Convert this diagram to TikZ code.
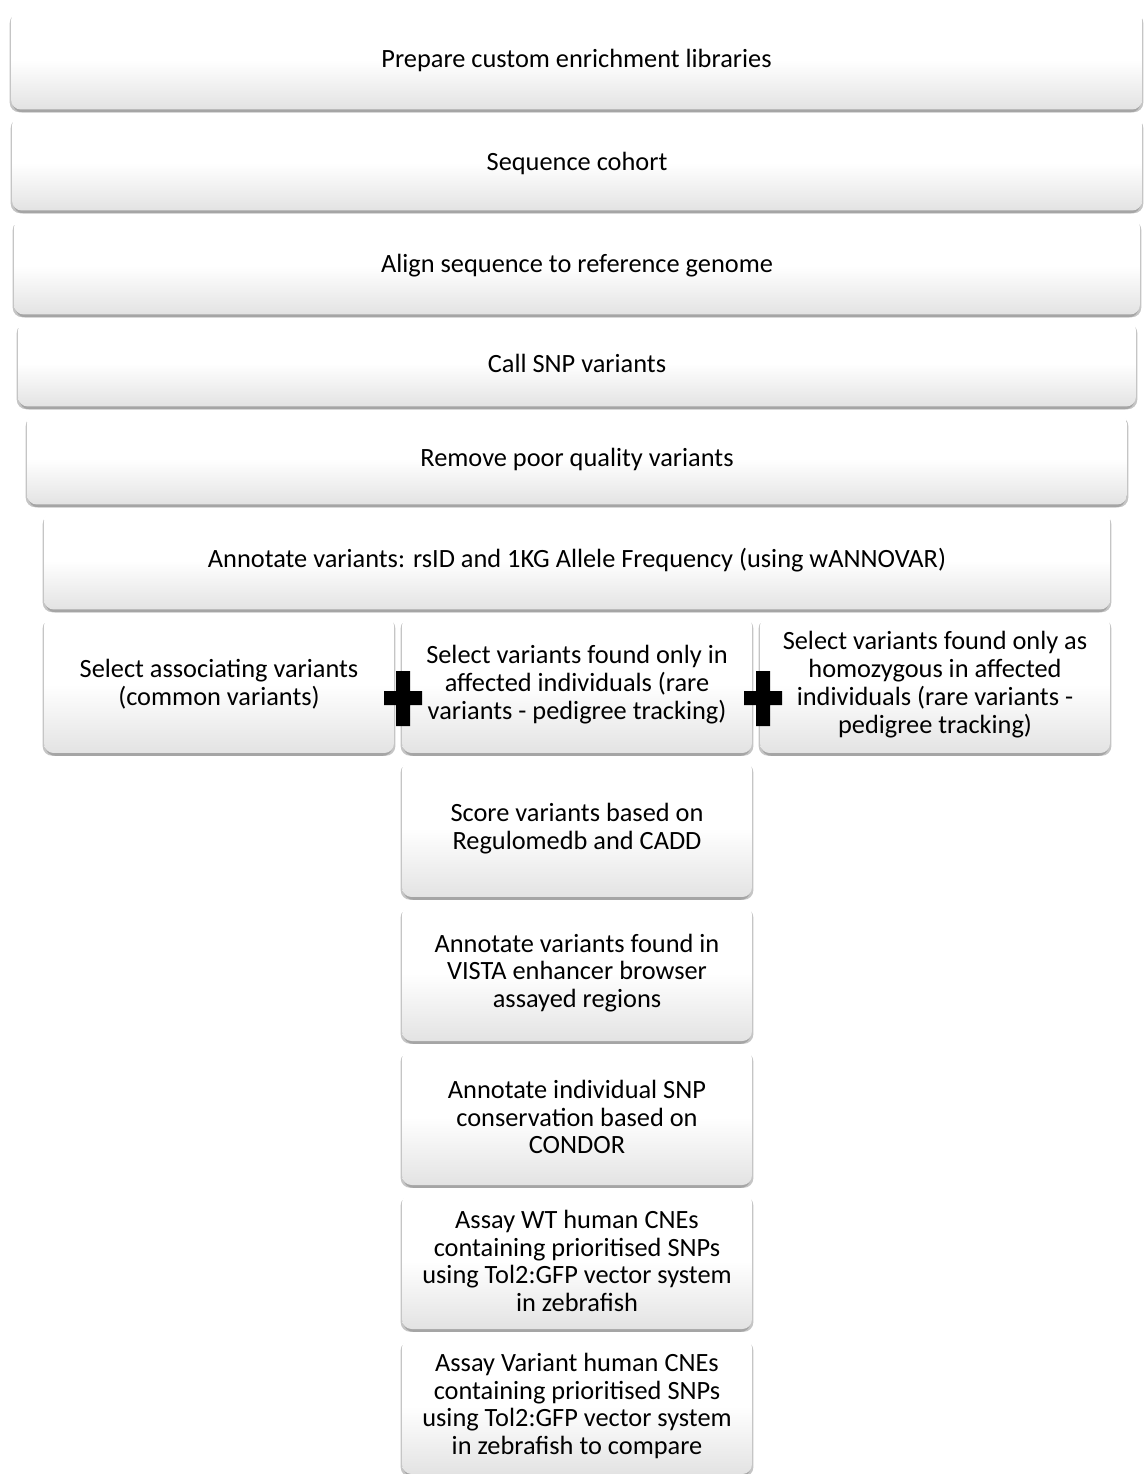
\documentclass[tikz,border=0pt]{standalone}
\usepackage{fontspec}
\setmainfont{Carlito}
\usetikzlibrary{shadows}

\begin{document}
\begin{tikzpicture}[x=0.02cm, y=-0.02cm,
  stage/.style={rounded corners=5.5pt, inner sep=0pt, align=center,
    top color=white, bottom color=black!11, middle color=white,
    drop shadow={shadow xshift=0.8pt, shadow yshift=-1.6pt, opacity=0.45},
    drop shadow={shadow xshift=-0.8pt, shadow yshift=-1.6pt, opacity=0.45},
    font=\fontsize{15}{15.8}\selectfont},
  pick/.style={stage, minimum width=7cm, minimum height=2.74cm},
  narrow/.style={stage, minimum width=7cm, minimum height=2.72cm}]
\useasboundingbox (0,0) rectangle (1143,1474);
\fill[white] (0,0) rectangle (1143,1474);

% pipeline, full width
\node[stage, minimum width=22.62cm, minimum height=1.98cm] (prep) at (576.5,60) {Prepare custom enrichment libraries};
\node[stage, minimum width=22.60cm, minimum height=1.90cm] (seq) at (577,163) {Sequence cohort};
\node[stage, minimum width=22.52cm, minimum height=1.94cm] (align) at (577,266) {Align sequence to reference genome};
\node[stage, minimum width=22.36cm, minimum height=1.72cm] (call) at (577,363.5) {Call SNP variants};
\node[stage, minimum width=22.00cm, minimum height=1.82cm] (qual) at (577,459) {Remove poor quality variants};
\node[stage, minimum width=21.32cm, minimum height=1.96cm] (annot) at (577,560.5) {Annotate variants: rsID and 1KG Allele Frequency (using wANNOVAR)};

% three selections
\node[pick] (common) at (219,684.5) {Select associating variants\\(common variants)};
\node[pick] (rare) at (577,684.5) {Select variants found only in\\affected individuals (rare\\variants - pedigree tracking)};
\node[pick] (homo) at (935,684.5) {Select variants found only as\\homozygous in affected\\individuals (rare variants -\\pedigree tracking)};

\fill (384,691) rectangle (422,705) (396,671) rectangle (410,726);
\fill (744,691) rectangle (782,705) (756,671) rectangle (770,726);

% narrowing column
\node[pick] (score) at (577,828.5) {Score variants based on\\Regulomedb and CADD};
\node[narrow] (vista) at (577,973) {Annotate variants found in\\VISTA enhancer browser\\assayed regions};
\node[narrow] (condor) at (577,1117) {Annotate individual SNP\\conservation based on\\CONDOR};
\node[narrow] (wt) at (577,1261) {Assay WT human CNEs\\containing prioritised SNPs\\using Tol2:GFP vector system\\in zebrafish};
\node[narrow] (var) at (577,1406) {Assay Variant human CNEs\\containing prioritised SNPs\\using Tol2:GFP vector system\\in zebrafish to compare};
\end{tikzpicture}
\end{document}
